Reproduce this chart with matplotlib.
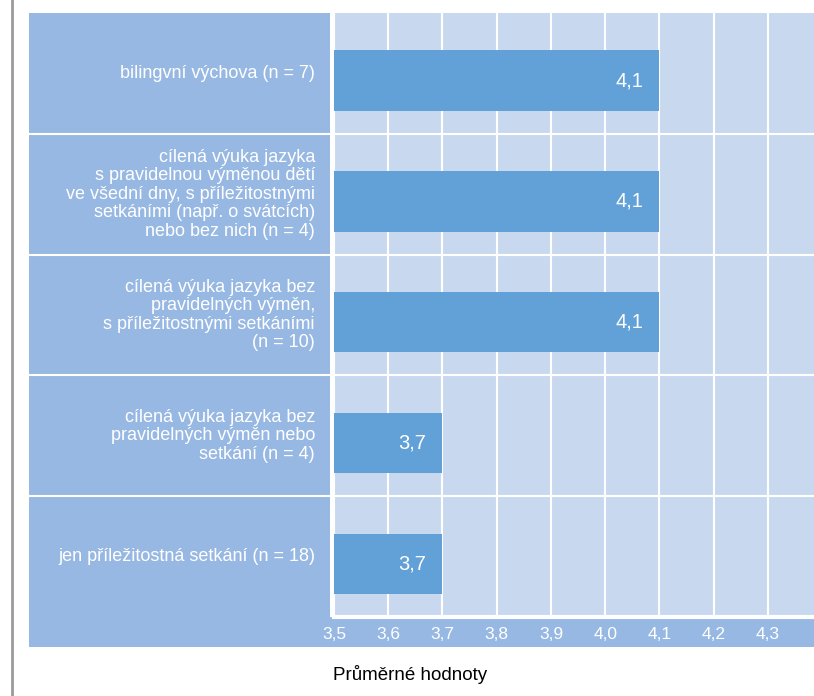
import matplotlib.pyplot as plt
from matplotlib.patches import Rectangle
from matplotlib.lines import Line2D

plt.rcParams['font.family'] = ['Liberation Sans', 'DejaVu Sans']

# data
categories = [
    'bilingvní výchova (n = 7)',
    'cílená výuka jazyka\ns pravidelnou výměnou dětí\nve všední dny, s příležitostnými\nsetkáními (např. o svátcích)\nnebo bez nich (n = 4)',
    'cílená výuka jazyka bez\npravidelných výměn,\ns příležitostnými setkáními\n(n = 10)',
    'cílená výuka jazyka bez\npravidelných výměn nebo\nsetkání (n = 4)',
    'jen příležitostná setkání (n = 18)',
]
values = [4.1, 4.1, 4.1, 3.7, 3.7]
value_labels = ['4,1', '4,1', '4,1', '3,7', '3,7']
ticks = [3.5, 3.6, 3.7, 3.8, 3.9, 4.0, 4.1, 4.2, 4.3]
tick_labels = ['3,5', '3,6', '3,7', '3,8', '3,9', '4,0', '4,1', '4,2', '4,3']

W, H = 814, 696
panel_col = '#97b8e2'
plot_bg = '#c8d9ef'
bar_col = '#62a1d7'

fig = plt.figure(figsize=(W / 100, H / 100), dpi=100)

def px(x0, y0, x1, y1):
    return [x0 / W, 1 - y1 / H, (x1 - x0) / W, (y1 - y0) / H]

# gray line on the left
fig.add_artist(Line2D([12 / W, 12 / W], [0, 1], color='#9a9a9a', lw=2))

# bottom strip for tick labels
fig.add_artist(Rectangle((29 / W, 1 - 647 / H), (W - 29) / W, 30 / H,
                         facecolor=panel_col, edgecolor='none', zorder=0))

n = len(categories)
ypos = list(range(n))

# left label panel
lab = fig.add_axes(px(29, 13, 330, 617))
lab.set_facecolor(panel_col)
lab.set_xlim(0, 1)
lab.set_ylim(n - 0.5, -0.5)
for s in lab.spines.values():
    s.set_visible(False)
lab.set_xticks([])
lab.set_yticks([])
for i in range(n - 1):
    lab.axhline(i + 0.5, color='white', lw=1.5)
for i, c in enumerate(categories):
    lab.text(0.95, i, c, ha='right', va='center', color='white',
             fontsize=13, linespacing=1.12)

# main plot
ax = fig.add_axes(px(334, 13, W, 617))
ax.set_facecolor(plot_bg)
ax.barh([y + 0.06 for y in ypos], [v - 3.5 for v in values], left=3.5,
        height=0.5, color=bar_col, zorder=3)
for y, v, t in zip(ypos, values, value_labels):
    ax.text(v - 0.03, y + 0.06, t, ha='right', va='center', color='white',
            fontsize=14.5, zorder=4)
ax.set_xlim(3.5, 4.385)
ax.set_ylim(n - 0.5, -0.5)
ax.set_xticks(ticks)
ax.set_xticklabels(tick_labels)
ax.set_yticks([])
ax.tick_params(axis='x', length=0, pad=7, labelcolor='white', labelsize=12.5)
ax.grid(axis='x', color='white', lw=1.5, zorder=1)
for i in range(n - 1):
    ax.axhline(i + 0.5, color='white', lw=1.5, zorder=1)
for s in ['top', 'right', 'left']:
    ax.spines[s].set_visible(False)
ax.spines['bottom'].set_color('white')
ax.spines['bottom'].set_linewidth(3)

fig.text(410 / W, 1 - 675 / H, 'Průměrné hodnoty', ha='center', va='center',
         fontsize=13.5, color='black')

plt.savefig('out.png', dpi=100)
